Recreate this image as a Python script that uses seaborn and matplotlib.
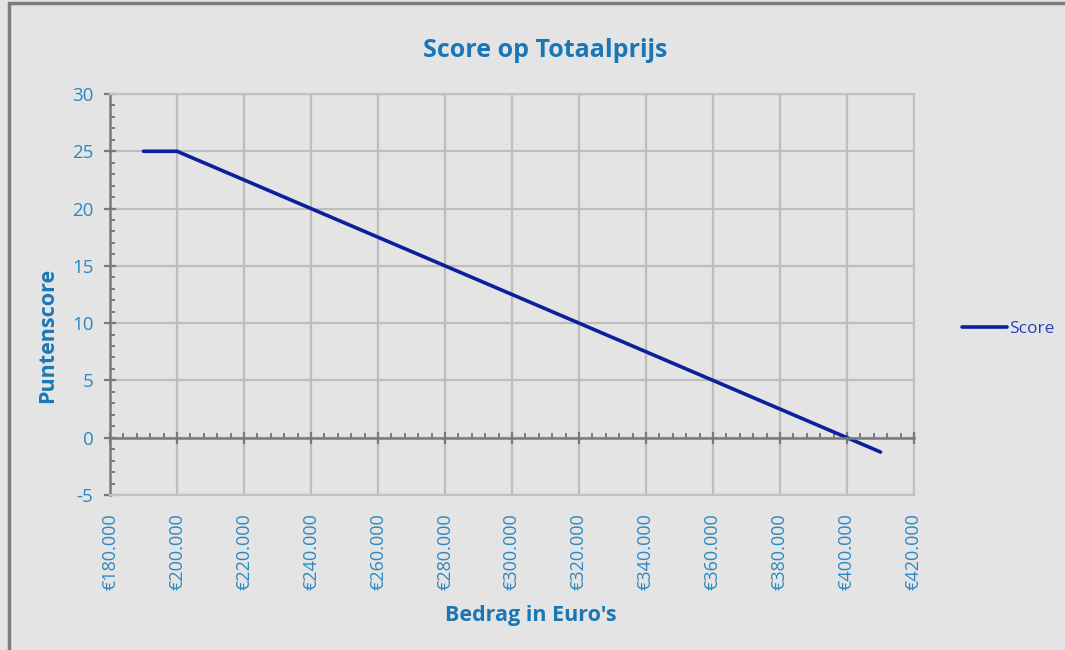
import numpy as np
import pandas as pd
import matplotlib
matplotlib.use('Agg')
import matplotlib.pyplot as plt
import seaborn as sns
from matplotlib.ticker import MultipleLocator, FuncFormatter
from matplotlib.patches import Rectangle

# data
bedrag = [190000, 200000, 210000, 220000, 230000, 240000, 250000, 260000,
          270000, 280000, 290000, 300000, 310000, 320000, 330000, 340000,
          350000, 360000, 370000, 380000, 390000, 400000, 410000]
score = [25, 25, 23.75, 22.5, 21.25, 20, 18.75, 17.5,
         16.25, 15, 13.75, 12.5, 11.25, 10, 8.75, 7.5,
         6.25, 5, 3.75, 2.5, 1.25, 0, -1.25]
df = pd.DataFrame({'Bedrag': bedrag, 'Score': score})

bg = '#e4e4e4'
blue_txt = '#2b88c2'
title_col = '#1a77b7'
line_col = '#0d1f9c'
axis_col = '#7a7a7a'

sns.set_style('white')
plt.rcParams['font.family'] = ['Open Sans', 'DejaVu Sans']
plt.rcParams['axes.unicode_minus'] = False

fig = plt.figure(figsize=(10.65, 6.5), dpi=100, facecolor=bg)
ax = fig.add_axes([0.1033, 0.2385, 0.7549, 0.6169], facecolor=bg)

ax.set_xlim(180000, 420000)
ax.set_ylim(-5, 30)
ax.xaxis.set_major_locator(MultipleLocator(20000))
ax.yaxis.set_major_locator(MultipleLocator(5))
ax.yaxis.set_minor_locator(MultipleLocator(1))
ax.xaxis.set_major_formatter(FuncFormatter(lambda v, p: '€' + f'{int(v):,}'.replace(',', '.')))
ax.grid(True, which='major', color='#bdbdbd', linewidth=1.6)
ax.set_axisbelow(True)

for s in ['top', 'right', 'bottom']:
    ax.spines[s].set_color('#c2c2c2')
    ax.spines[s].set_linewidth(1.6)
ax.spines['left'].set_color(axis_col)
ax.spines['left'].set_linewidth(1.8)

ax.tick_params(axis='x', length=0, labelsize=13, labelcolor=blue_txt,
               labelrotation=90, pad=13)
ax.tick_params(axis='y', which='major', direction='inout', length=8, width=1.6,
               color=axis_col, labelsize=13.5, labelcolor=blue_txt, pad=8,
               left=True)
ax.tick_params(axis='y', which='minor', direction='in', length=3.5, width=1.4,
               color=axis_col, left=True)

# horizontal axis line at score 0 with its tick marks (overlay axes)
ax0 = fig.add_axes(ax.get_position(), sharex=ax, facecolor='none')
ax0.set_ylim(-5, 30)
ax0.patch.set_visible(False)
for s in ['top', 'right', 'left']:
    ax0.spines[s].set_visible(False)
ax0.spines['bottom'].set_position(('data', 0))
ax0.spines['bottom'].set_color(axis_col)
ax0.spines['bottom'].set_linewidth(1.8)
ax0.xaxis.set_minor_locator(MultipleLocator(4000))
ax0.tick_params(axis='x', which='major', direction='inout', length=8, width=1.6,
                color=axis_col, labelbottom=False, bottom=True)
ax0.tick_params(axis='x', which='minor', direction='in', length=3.5, width=1.4,
                color=axis_col, bottom=True)
ax0.tick_params(axis='y', left=False, labelleft=False)

sns.lineplot(data=df, x='Bedrag', y='Score', ax=ax0, color=line_col,
             linewidth=2.6, label='Score')
ax0.set_xlabel('')
ax0.set_ylabel('')
ax.set_xlabel('')
ax.set_ylabel('')

fig.text(0.512, 0.923, 'Score op Totaalprijs', ha='center', va='center',
         fontsize=18, fontweight='bold', color=title_col)
fig.text(0.498, 0.053, "Bedrag in Euro's", ha='center', va='center',
         fontsize=15.5, fontweight='bold', color=title_col)
fig.text(0.045, 0.484, 'Puntenscore', ha='center', va='center',
         rotation=90, fontsize=15.5, fontweight='bold', color=title_col)

leg = ax0.legend(loc='center left', bbox_to_anchor=(1.04, 0.415), frameon=False,
                 fontsize=12.5, handlelength=2.6, handletextpad=0.1)
for t in leg.get_texts():
    t.set_color('#2340c0')

# outer frame of the chart area
fig.patches.append(Rectangle((0.008, -0.02), 1.2, 1.015, transform=fig.transFigure,
                             fill=False, edgecolor='#7c7f78', linewidth=2.5))

fig.savefig('out.png', dpi=100, facecolor=bg)
